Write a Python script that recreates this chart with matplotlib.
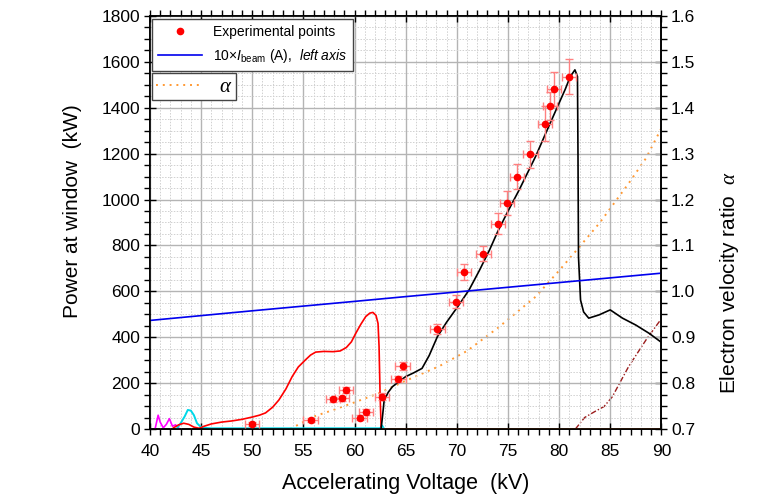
import matplotlib
matplotlib.use("Agg")
import matplotlib.pyplot as plt
from matplotlib.ticker import MultipleLocator, FormatStrFormatter
from matplotlib.lines import Line2D

plt.rcParams['font.family'] = ['Liberation Sans', 'DejaVu Sans']
plt.rcParams['mathtext.fontset'] = 'custom'
plt.rcParams['mathtext.rm'] = 'Liberation Sans'
plt.rcParams['mathtext.it'] = 'Liberation Serif:italic'
plt.rcParams['mathtext.sf'] = 'Liberation Sans:italic'

# measured points
exp_v = [50.0, 55.7, 57.9, 58.8, 59.2, 60.5, 61.1, 62.7, 64.3, 64.7, 68.1,
         69.9, 70.7, 72.6, 74.0, 74.9, 75.9, 77.2, 78.6, 79.1, 79.5, 81.0]
exp_p = [22, 39, 129, 134, 170, 49, 75, 141, 218, 275, 436,
         555, 683, 763, 895, 984, 1100, 1197, 1330, 1408, 1481, 1536]
exp_xerr = [0.7] * 22
exp_yerr = [10, 10, 10, 10, 12, 12, 14, 14, 15, 18, 22,
            28, 34, 33, 47, 51, 54, 60, 76, 60, 74, 75]

# simulated power, lower mode (red)
red_v = [42.3, 42.8, 43.3, 43.8, 44.3, 44.8, 45.3, 46, 47, 48, 49, 50, 50.7, 51.3,
         52, 52.6, 53.3, 53.9, 54.5, 55.2, 55.7, 56.2, 57, 57.9, 58.6, 59.2, 59.7,
         60.1, 60.6, 61.1, 61.5, 61.8, 62.1, 62.3, 62.4, 62.5, 62.6]
red_p = [5, 18, 25, 20, 8, 3, 12, 22, 30, 35, 42, 52, 60, 70,
         95, 126, 175, 228, 270, 301, 322, 335, 338, 337, 340, 355, 380,
         415, 455, 490, 505, 508, 495, 460, 360, 150, 10]

# simulated power, upper mode (black)
black_v = [62.6, 62.75, 62.9, 63.3, 63.7, 64.3, 65.0, 65.8, 66.6, 67.3, 68.1, 69.0,
           70.2, 71.2, 72.2, 73.2, 74.0, 74.9, 76.1, 77.7, 78.7, 80.0, 80.6, 81.1,
           81.55, 81.8, 81.85, 81.9, 82.1, 82.4, 82.9, 83.9, 85.0, 86.2, 87.5, 88.8, 89.9]
black_p = [0, 60, 126, 160, 184, 205, 228, 245, 264, 320, 402, 465,
           540, 606, 690, 780, 860, 940, 1042, 1187, 1289, 1420, 1480, 1536,
           1565, 1536, 1200, 750, 562, 510, 483, 497, 519, 483, 453, 417, 381]

# other modes near zero
cyan_v = [42.6, 43.0, 43.4, 43.7, 44.0, 44.3, 44.6, 44.9, 45.3, 46, 50, 55, 60, 62.5, 62.7, 62.9]
cyan_p = [0, 25, 55, 83, 80, 60, 25, 12, 5, 3, 3, 3, 3, 3, 15, 0]
mag_v = [40.5, 40.8, 41.0, 41.3, 41.6, 41.9, 42.2, 42.5, 42.9]
mag_p = [0, 60, 30, 5, 20, 45, 12, 18, 0]
orange_v = [62.7, 90]
orange_p = [2, 2]

# 10 x beam current
blue_v = [40, 50, 60, 64.8, 70, 80, 90]
blue_p = [473, 515, 556, 576, 597, 638, 679]

# electron velocity ratio (right axis)
alpha_v = [53.7, 56, 58, 60, 62.4, 65, 68.3, 71, 74, 77.7, 80, 82, 84, 86.8, 88.5, 90]
alpha_a = [0.70, 0.727, 0.742, 0.758, 0.778, 0.805, 0.837, 0.87, 0.92, 0.988,
           1.045, 1.097, 1.15, 1.235, 1.29, 1.355]
brown_v = [81.6, 82.5, 83.5, 84.4, 85.2, 86.8, 88.5, 89.9]
brown_a = [0.70, 0.725, 0.738, 0.749, 0.770, 0.836, 0.894, 0.937]

fig = plt.figure(figsize=(7.69, 4.98), dpi=100)
ax = fig.add_axes([0.195, 0.1386, 0.665, 0.8294])
ax2 = ax.twinx()

ax.plot(mag_v, mag_p, color='#ff00ff', lw=1.2)
ax.plot(cyan_v, cyan_p, color='#00d8e8', lw=1.4)
ax.plot(red_v, red_p, color='#ff0000', lw=1.2)
ax.plot(orange_v, orange_p, color='#ff7f2a', lw=1.2)
ax.plot(black_v, black_p, color='black', lw=1.2)
ax.plot(blue_v, blue_p, color='#0000ee', lw=1.2)
ax.errorbar(exp_v, exp_p, xerr=exp_xerr, yerr=exp_yerr, fmt='o', color='#ff0000',
            ms=4.5, ecolor='#ff8080', elinewidth=1, capsize=3, zorder=5)

ax2.plot(alpha_v, alpha_a, color='#ff9933', lw=1.4, ls=(0, (1, 2.5)))
ax2.plot(brown_v, brown_a, color='#9b1c1c', lw=1.0, ls=(0, (4, 1.5, 1, 1.5)))

ax.set_xlim(40, 90)
ax.set_ylim(0, 1800)
ax2.set_ylim(0.7, 1.6)

ax.xaxis.set_major_locator(MultipleLocator(5))
ax.xaxis.set_minor_locator(MultipleLocator(1))
ax.yaxis.set_major_locator(MultipleLocator(200))
ax.yaxis.set_minor_locator(MultipleLocator(50))
ax2.yaxis.set_major_locator(MultipleLocator(0.1))
ax2.yaxis.set_minor_locator(MultipleLocator(0.025))
ax2.yaxis.set_major_formatter(FormatStrFormatter('%.1f'))

ax.grid(which='major', color='#b4b4b4', lw=1.0)
ax.grid(which='minor', color='#d0d0d0', lw=0.7, ls=(0, (1.5, 1.5)))
ax.set_axisbelow(True)

ax.tick_params(which='major', direction='inout', length=8, width=1, labelsize=12.5,
               top=True, pad=3)
ax.tick_params(axis='x', which='major', pad=7)
ax.tick_params(which='minor', direction='out', length=4, width=1, top=True)
ax2.tick_params(which='major', direction='inout', length=8, width=1, labelsize=12.5, pad=3)
ax2.tick_params(which='minor', direction='out', length=4, width=1)
for a in (ax, ax2):
    for s in a.spines.values():
        s.set_linewidth(1.2)

ax.set_xlabel('Accelerating Voltage  (kV)', fontsize=15.5, labelpad=10)
ax.set_ylabel('Power at window  (kW)', fontsize=15)
ax.yaxis.set_label_coords(-0.133, 0.528)
ax2.set_ylabel(r'Electron velocity ratio  $\alpha$', fontsize=15, rotation=90)
ax2.yaxis.set_label_coords(1.11, 0.354)

h1 = [Line2D([], [], ls='none', marker='o', color='#ff0000', ms=4.5),
      Line2D([], [], color='#0000ee', lw=1.2)]
leg1 = ax.legend(h1, ['Experimental points',
                      r'10×$\mathsf{I}_\mathrm{beam}$ (A),  $\mathsf{left\ axis}$'],
                 loc='upper left', bbox_to_anchor=(0.004, 0.992), fontsize=10,
                 fancybox=False, framealpha=1, edgecolor='#444444',
                 handlelength=3.2, borderaxespad=0, borderpad=0.4, labelspacing=0.6)
ax.add_artist(leg1)
h2 = [Line2D([], [], color='#ff9933', lw=1.4, ls=(0, (1, 2.5)))]
leg2 = ax.legend(h2, [r'$\alpha$'], loc='upper left', bbox_to_anchor=(0.004, 0.862),
                 fontsize=15, fancybox=False, framealpha=1, edgecolor='#444444',
                 handlelength=2.2, borderaxespad=0, borderpad=0.2)
leg1.set_zorder(10)
leg2.set_zorder(10)
ax.set_zorder(ax2.get_zorder() + 1)
ax.patch.set_visible(False)

fig.savefig('out.png', dpi=100)
